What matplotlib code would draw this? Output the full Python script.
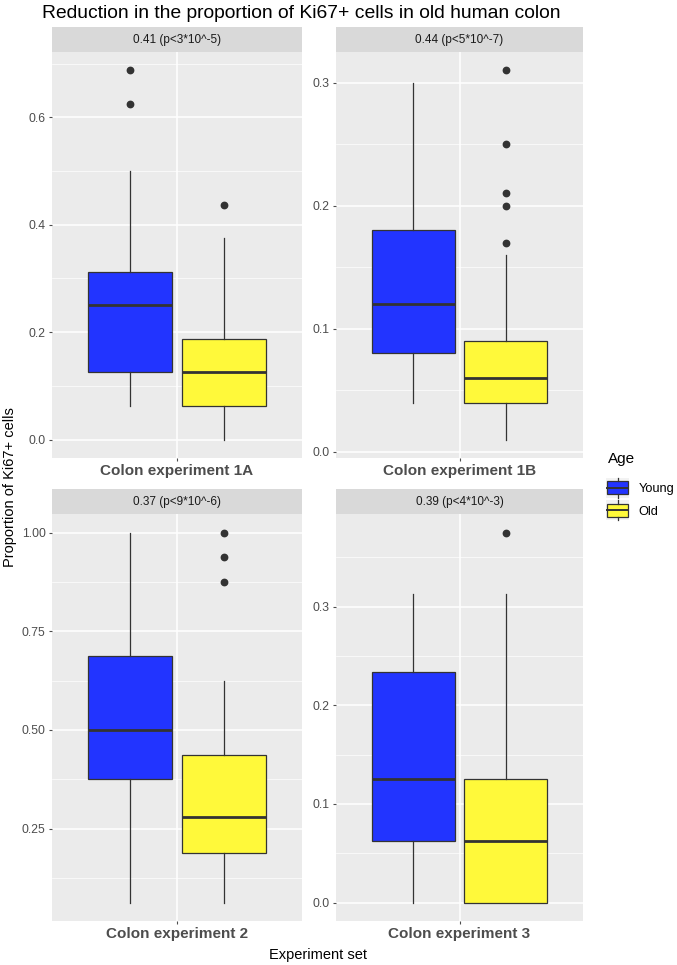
import matplotlib
matplotlib.use("Agg")
import matplotlib.pyplot as plt
from matplotlib.patches import Rectangle, Patch
from matplotlib.lines import Line2D
from matplotlib.legend_handler import HandlerBase

plt.rcParams['font.family'] = ['Liberation Sans', 'DejaVu Sans']

# ---------------- data ----------------
groups = ["Young", "Old"]
colors = ["#2234FF", "#FFF93A"]
panels = ["Colon experiment 1A", "Colon experiment 1B", "Colon experiment 2", "Colon experiment 3"]
strips = ["0.41 (p<3*10^-5)", "0.44 (p<5*10^-7)", "0.37 (p<9*10^-6)", "0.39 (p<4*10^-3)"]

young_whislo = [0.0625, 0.04, 0.0625, 0.0]
young_q1 = [0.125, 0.08, 0.375, 0.0625]
young_med = [0.25, 0.12, 0.5, 0.125]
young_q3 = [0.3125, 0.18, 0.6875, 0.234]
young_whishi = [0.5, 0.30, 1.0, 0.3125]
young_fliers = [[0.625, 0.6875], [], [], []]

old_whislo = [0.0, 0.01, 0.0625, 0.0]
old_q1 = [0.0625, 0.04, 0.1875, 0.0]
old_med = [0.125, 0.06, 0.28, 0.0625]
old_q3 = [0.1875, 0.09, 0.4375, 0.125]
old_whishi = [0.375, 0.16, 0.625, 0.3125]
old_fliers = [[0.4375], [0.17, 0.20, 0.21, 0.25, 0.31], [0.875, 0.9375, 1.0], [0.375]]

yticks = [[0.0, 0.2, 0.4, 0.6], [0.0, 0.1, 0.2, 0.3], [0.25, 0.5, 0.75, 1.0], [0.0, 0.1, 0.2, 0.3]]
yticklabels = [["0.0", "0.2", "0.4", "0.6"], ["0.0", "0.1", "0.2", "0.3"],
               ["0.25", "0.50", "0.75", "1.00"], ["0.0", "0.1", "0.2", "0.3"]]

title = "Reduction in the proportion of Ki67+ cells in old human colon"
xlabel = "Experiment set"
ylabel = "Proportion of Ki67+ cells"
legend_title = "Age"

# ---------------- layout ----------------
W, H = 677, 965
fig = plt.figure(figsize=(W / 100, H / 100), dpi=100)

def fx(px):
    return px / W

def fy(px):
    return 1 - px / H

cols = [(52, 302), (336, 583)]
rows = [(52, 458), (514, 921)]
strip_h = 25

edge = "#333333"
panel_bg = "#EBEBEB"
strip_bg = "#D9D9D9"

for i in range(4):
    r, c = divmod(i, 2)
    x0, x1 = cols[c]
    y0, y1 = rows[r]
    ax = fig.add_axes([fx(x0), fy(y1), fx(x1 - x0), (y1 - y0) / H])
    ax.set_facecolor(panel_bg)
    for s in ax.spines.values():
        s.set_visible(False)

    stats = [
        dict(whislo=young_whislo[i], q1=young_q1[i], med=young_med[i], q3=young_q3[i],
             whishi=young_whishi[i], fliers=young_fliers[i]),
        dict(whislo=old_whislo[i], q1=old_q1[i], med=old_med[i], q3=old_q3[i],
             whishi=old_whishi[i], fliers=old_fliers[i]),
    ]
    bp = ax.bxp(stats, positions=[1 - 0.225, 1 + 0.225], widths=0.405, patch_artist=True,
                showcaps=False,
                boxprops=dict(edgecolor=edge, linewidth=0.9),
                whiskerprops=dict(color=edge, linewidth=0.9),
                medianprops=dict(color=edge, linewidth=2.0, solid_capstyle='butt'),
                flierprops=dict(marker='o', markerfacecolor=edge, markeredgecolor=edge,
                                markersize=4.6, linestyle='none'),
                zorder=3)
    for patch, col in zip(bp['boxes'], colors):
        patch.set_facecolor(col)

    # limits (5% expansion like ggplot)
    allv = [young_whislo[i], old_whislo[i], young_whishi[i], old_whishi[i]] + young_fliers[i] + old_fliers[i]
    lo, hi = min(allv), max(allv)
    pad = 0.05 * (hi - lo)
    ax.set_ylim(lo - pad, hi + pad)
    ax.set_xlim(0.4, 1.6)

    # grid
    yt = yticks[i]
    step = yt[1] - yt[0]
    minors = [yt[0] - step / 2] + [t + step / 2 for t in yt]
    for m in minors:
        if lo - pad < m < hi + pad:
            ax.axhline(m, color="white", linewidth=0.5, zorder=1)
    for t in yt:
        ax.axhline(t, color="white", linewidth=1.1, zorder=1)
    ax.axvline(1, color="white", linewidth=1.1, zorder=1)

    ax.set_yticks(yt)
    ax.set_yticklabels(yticklabels[i])
    ax.set_xticks([1])
    ax.set_xticklabels([panels[i]], fontweight='bold')
    ax.tick_params(axis='y', colors="#4D4D4D", labelsize=8.8, length=2.5, width=0.8, pad=2)
    ax.tick_params(axis='x', colors="#4D4D4D", labelsize=11, length=2.5, width=0.8, pad=2)
    for lab in ax.get_yticklabels() + ax.get_xticklabels():
        lab.set_color("#4D4D4D")

    # strip
    sax = fig.add_axes([fx(x0), fy(y0), fx(x1 - x0), strip_h / H])
    sax.set_facecolor(strip_bg)
    sax.set_xticks([])
    sax.set_yticks([])
    for s in sax.spines.values():
        s.set_visible(False)
    sax.text(0.5, 0.5, strips[i], ha='center', va='center', fontsize=8.5, color="#1A1A1A",
             transform=sax.transAxes)

# titles
fig.text(fx(42), fy(13), title, ha='left', va='center', fontsize=13.9, color="black")
fig.text(fx(318), fy(955), xlabel, ha='center', va='center', fontsize=10.5, color="black")
fig.text(fx(10), fy(487), ylabel, ha='center', va='center', fontsize=10.5, rotation=90, color="black")


# legend with boxplot-like keys
class BoxHandler(HandlerBase):
    def create_artists(self, legend, orig_handle, xdescent, ydescent, width, height, fontsize, trans):
        fc = orig_handle.get_facecolor()
        x0, y0 = -xdescent, -ydescent
        ext = 2.5
        bg = Rectangle((x0 - 1, y0 - ext), width + 2, height + 2 * ext, facecolor="#F2F2F2",
                       edgecolor="none", transform=trans)
        box = Rectangle((x0, y0), width, height,
                        facecolor=fc, edgecolor=edge, linewidth=0.9, transform=trans)
        mid = y0 + height / 2
        med = Line2D([x0, x0 + width], [mid, mid], color=edge, linewidth=1.4, transform=trans)
        w1 = Line2D([x0 + width / 2] * 2, [y0 - ext, y0],
                    color=edge, linewidth=0.9, transform=trans)
        w2 = Line2D([x0 + width / 2] * 2, [y0 + height, y0 + height + ext],
                    color=edge, linewidth=0.9, transform=trans)
        return [bg, box, med, w1, w2]


fig.text(fx(608), fy(459), legend_title, ha='left', va='center', fontsize=11, color="black")
handles = [Patch(facecolor=c, label=g) for c, g in zip(colors, groups)]
leg = fig.legend(handles=handles, labels=groups, handler_map={Patch: BoxHandler()},
                 loc='upper left', bbox_to_anchor=(fx(607), fy(481)), frameon=False,
                 fontsize=9.2,
                 handlelength=1.65, handleheight=1.2, labelspacing=0.7, handletextpad=0.8,
                 borderaxespad=0, borderpad=0)

fig.savefig("out.png", dpi=100)
